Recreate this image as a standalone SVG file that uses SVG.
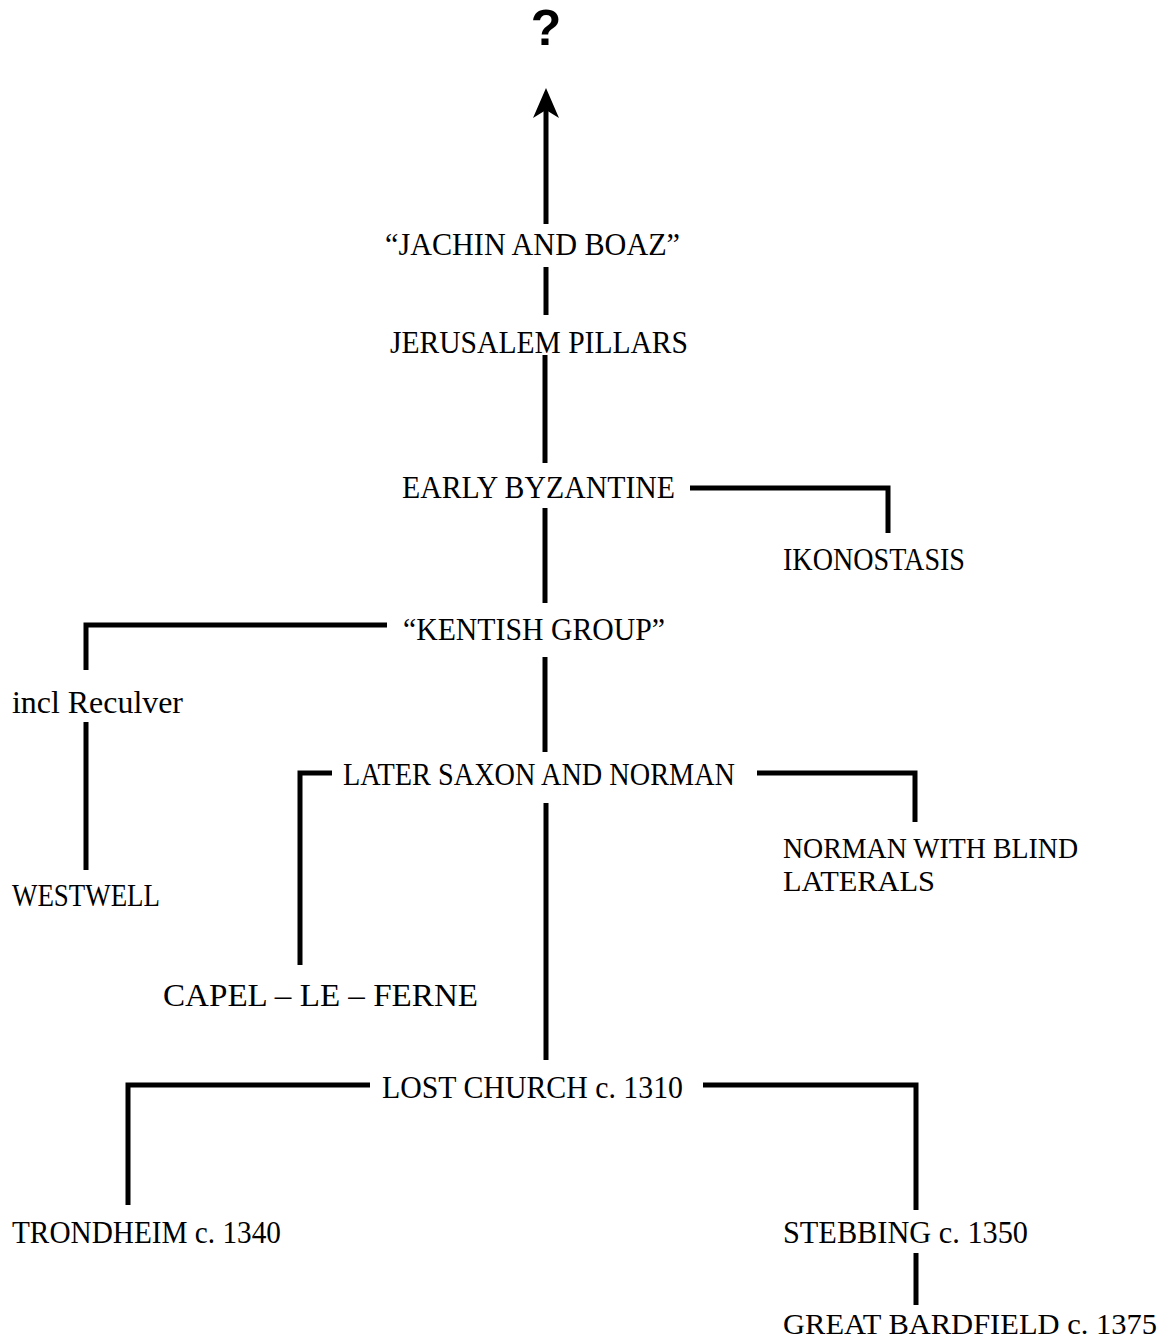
<svg xmlns="http://www.w3.org/2000/svg" width="1169" height="1343" viewBox="0 0 1169 1343">
<style>
.t{font-family:"Liberation Serif","Times New Roman",serif;font-size:32px;fill:#000}
.s{font-size:30px}
.q{font-family:"Liberation Sans",Arial,sans-serif;font-size:50px;font-weight:bold;fill:#000}
.c{fill:none;stroke:#000;stroke-width:5;stroke-linecap:butt;stroke-linejoin:miter}
</style>
<rect width="1169" height="1343" fill="#fff"/>
<g id="connectors">
<line class="c" x1="546" y1="224" x2="546" y2="108"/>
<polygon points="546,88 559,118 546,110 533,118" fill="#000"/>
<line class="c" x1="546" y1="267" x2="546" y2="315"/>
<line class="c" x1="545" y1="355" x2="545" y2="463"/>
<line class="c" x1="545" y1="508" x2="545" y2="603"/>
<line class="c" x1="545" y1="657" x2="545" y2="752"/>
<line class="c" x1="546" y1="803" x2="546" y2="1060"/>
<polyline class="c" points="690,488 888,488 888,533"/>
<polyline class="c" points="387,625 86,625 86,670"/>
<line class="c" x1="86" y1="722" x2="86" y2="870"/>
<polyline class="c" points="332,773 300,773 300,965"/>
<polyline class="c" points="757,773 915,773 915,822"/>
<polyline class="c" points="370,1085 128,1085 128,1205"/>
<polyline class="c" points="703,1085 916,1085 916,1210"/>
<line class="c" x1="916" y1="1253" x2="916" y2="1305"/>
</g>
<g id="n-question"><text class="q" x="546" y="45" text-anchor="middle">?</text></g>
<g id="n-jachin"><text class="t" x="385" y="255" textLength="295" lengthAdjust="spacingAndGlyphs">“JACHIN AND BOAZ”</text></g>
<g id="n-jerusalem"><text class="t" x="390" y="353" textLength="298" lengthAdjust="spacingAndGlyphs">JERUSALEM PILLARS</text></g>
<g id="n-early"><text class="t" x="402" y="498" textLength="273" lengthAdjust="spacingAndGlyphs">EARLY BYZANTINE</text></g>
<g id="n-ikon"><text class="t" x="783" y="570" textLength="182" lengthAdjust="spacingAndGlyphs">IKONOSTASIS</text></g>
<g id="n-kentish"><text class="t" x="403" y="640" textLength="262" lengthAdjust="spacingAndGlyphs">“KENTISH GROUP”</text></g>
<g id="n-reculver"><text class="t" x="12" y="713" textLength="171" lengthAdjust="spacingAndGlyphs">incl Reculver</text></g>
<g id="n-westwell"><text class="t" x="12" y="906" textLength="148" lengthAdjust="spacingAndGlyphs">WESTWELL</text></g>
<g id="n-later"><text class="t" x="343" y="785" textLength="392" lengthAdjust="spacingAndGlyphs">LATER SAXON AND NORMAN</text></g>
<g id="n-blind"><text class="t s" x="783" y="858" textLength="295" lengthAdjust="spacingAndGlyphs">NORMAN WITH BLIND</text><text class="t s" x="783" y="891" textLength="152" lengthAdjust="spacingAndGlyphs">LATERALS</text></g>
<g id="n-capel"><text class="t" x="163" y="1006" textLength="315" lengthAdjust="spacingAndGlyphs">CAPEL – LE – FERNE</text></g>
<g id="n-lost"><text class="t" x="382" y="1098" textLength="301" lengthAdjust="spacingAndGlyphs">LOST CHURCH c. 1310</text></g>
<g id="n-trondheim"><text class="t" x="12" y="1243" textLength="269" lengthAdjust="spacingAndGlyphs">TRONDHEIM c. 1340</text></g>
<g id="n-stebbing"><text class="t" x="783" y="1243" textLength="245" lengthAdjust="spacingAndGlyphs">STEBBING c. 1350</text></g>
<g id="n-bardfield"><text class="t s" x="783" y="1334" textLength="374" lengthAdjust="spacingAndGlyphs">GREAT BARDFIELD c. 1375</text></g>
</svg>
